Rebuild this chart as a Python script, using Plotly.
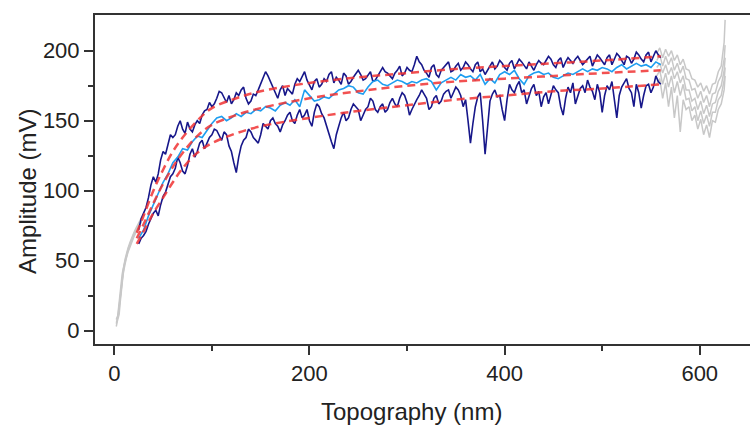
import plotly.graph_objects as go

# ---------------- data ----------------
x_main = list(range(25, 561, 5))
x_mid = [v + 2.5 for v in range(25, 560, 5)]

upper_vals = [72, 84, 95, 110, 112, 128, 133, 138, 146, 144,
              149, 142, 150, 154, 158, 160, 166, 170, 163, 162,
              170, 172, 166, 164, 168, 176, 185, 178, 170, 172,
              168, 171, 176, 178, 185, 175, 178, 174, 180, 183,
              177, 179, 184, 176, 181, 186, 179, 183, 178, 182,
              188, 184, 180, 186, 182, 188, 185, 196, 190, 184,
              188, 183, 186, 190, 185, 189, 186, 192, 187, 190,
              185, 183, 190, 187, 193, 188, 191, 187, 194, 189,
              192, 186, 193, 190, 196, 190, 193, 188, 195, 191,
              196, 190, 194, 189, 197, 192, 195, 190, 198, 193,
              196, 191, 199, 194, 197, 192, 200, 195]
upper_mid = [80, 88, 104, 106, 122, 126, 140, 140, 150, 141,
             144, 147, 148, 157, 163, 162, 171, 166, 168, 165,
             168, 174, 162, 169, 172, 181, 182, 175, 166, 175,
             173, 169, 180, 181, 179, 172, 180, 176, 178, 185,
             181, 176, 182, 178, 184, 183, 180, 185, 179, 185,
             185, 182, 184, 189, 184, 186, 190, 192, 186, 181,
             190, 181, 188, 192, 186, 191, 188, 190, 185, 192,
             187, 186, 192, 189, 191, 186, 193, 190, 192, 187,
             189, 190, 191, 193, 194, 188, 195, 192, 193, 194,
             193, 192, 196, 193, 195, 190, 197, 194, 196, 190,
             195, 194, 197, 192, 199, 196, 197]

mean_vals = [66, 72, 82, 90, 98, 106, 112, 120, 124, 130,
             129, 135, 139, 138, 143, 148, 152, 153, 150, 152,
             155, 153, 156, 155, 158, 157, 160, 159, 157, 161,
             163, 161, 165, 160, 172, 168, 164, 165, 167, 166,
             169, 172, 173, 175, 174, 170, 169, 174, 178, 179,
             176, 175, 177, 179, 178, 176, 178, 177, 179, 180,
             178, 172, 177, 179, 181, 179, 183, 181, 182, 179,
             183, 176, 180, 177, 183, 185, 183, 186, 180, 176,
             182, 184, 185, 183, 184, 181, 180, 182, 184, 183,
             185, 187, 185, 187, 186, 188, 187, 185, 188, 190,
             187, 189, 191, 189, 190, 188, 192, 190]

lower_vals = [62, 68, 76, 84, 82, 96, 104, 112, 124, 114,
              118, 130, 128, 136, 134, 140, 143, 136, 140, 128,
              113, 132, 138, 142, 136, 140, 146, 150, 148, 142,
              150, 156, 148, 158, 154, 150, 156, 160, 152, 140,
              130, 146, 156, 152, 162, 158, 154, 160, 164, 156,
              162, 158, 166, 160, 170, 163, 158, 165, 172, 166,
              160, 168, 164, 171, 166, 174, 168, 165, 134, 160,
              170, 126, 164, 172, 168, 150, 176, 170, 178, 172,
              168, 176, 171, 167, 162, 175, 170, 154, 174, 177,
              168, 175, 179, 171, 176, 156, 175, 178, 152, 174,
              180, 170, 176, 159, 175, 170, 182, 176]
lower_mid = [66, 71, 80, 86, 90, 99, 110, 116, 120, 112,
             126, 124, 134, 130, 138, 144, 139, 142, 132, 120,
             124, 136, 144, 138, 134, 148, 144, 152, 146, 147,
             154, 150, 154, 152, 158, 146, 162, 155, 146, 135,
             140, 152, 150, 158, 160, 150, 158, 166, 158, 160,
             156, 163, 162, 166, 168, 154, 162, 168, 169, 158,
             166, 162, 169, 172, 170, 172, 160, 150, 148, 167,
             150, 145, 169, 167, 158, 165, 172, 175, 170, 162,
             173, 168, 160, 170, 168, 172, 160, 166, 170, 162,
             173, 170, 174, 165, 170, 168, 172, 166, 168, 177,
             173, 160, 170, 168, 176, 174, 178]

fit_x = [23, 30, 40, 50, 60, 70, 85, 100, 125, 150, 200, 250, 300, 350, 400, 450, 500, 560]
fit_upper = [70, 82, 100, 115, 128, 138, 150, 159, 166, 171, 177, 181, 184, 187, 189, 191, 193, 196]
fit_mean = [66, 76, 91, 105, 117, 127, 139, 147, 154, 159, 166, 171, 175, 178, 180, 182, 184, 186]
fit_lower = [62, 71, 84, 95, 106, 116, 127, 134, 141, 146, 152, 157, 161, 165, 168, 171, 173, 176]

gray_left_x = [2, 3, 4, 5, 6, 7, 8, 9, 10, 11, 12, 14, 16, 18, 20, 22, 25, 28]
gray_left = [
    [5, 8, 14, 22, 30, 36, 40, 44, 47, 50, 53, 58, 62, 66, 69, 72, 76, 80],
    [3, 6, 10, 16, 24, 32, 38, 42, 46, 49, 52, 57, 61, 65, 68, 71, 75, 79],
    [8, 10, 9, 12, 20, 28, 35, 40, 44, 48, 51, 56, 60, 64, 67, 70, 74, 78],
    [6, 7, 12, 18, 26, 33, 39, 43, 47, 51, 54, 59, 63, 67, 70, 73, 77, 81],
]

gray_right_x = [556, 559, 562, 565, 568, 571, 574, 577, 580, 583, 586, 589, 592,
                595, 598, 601, 604, 607, 610, 613, 616, 619, 622, 625, 626]
gray_right = [
    [198, 202, 195, 201, 196, 200, 193, 197, 190, 194, 187, 186, 180, 179, 174, 177, 171, 175, 169, 176, 177, 185, 189, 206, 222],
    [193, 197, 189, 196, 190, 195, 186, 191, 184, 189, 180, 179, 172, 173, 166, 171, 163, 168, 160, 169, 170, 178, 182, 194, 204],
    [188, 191, 184, 190, 183, 188, 180, 185, 177, 182, 172, 172, 164, 166, 158, 164, 155, 161, 153, 162, 163, 171, 175, 186, 195],
    [182, 186, 176, 184, 174, 182, 170, 178, 168, 176, 165, 166, 157, 160, 150, 157, 148, 154, 146, 156, 156, 165, 168, 179, 188],
    [176, 180, 166, 177, 160, 174, 152, 168, 142, 165, 158, 160, 150, 154, 144, 151, 140, 147, 138, 150, 149, 158, 162, 172, 182],
]

x_ticks = [0, 200, 400, 600]
y_ticks = [0, 50, 100, 150, 200]


def merge(xa, ya, xb, yb):
    pts = sorted(list(zip(xa, ya)) + list(zip(xb, yb)))
    return [p[0] for p in pts], [p[1] for p in pts]


# ---------------- figure ----------------
fig = go.Figure()

GRAY = "#c8c8c8"
for ys in gray_left:
    fig.add_trace(go.Scatter(x=gray_left_x, y=ys, mode="lines",
                             line=dict(color=GRAY, width=1.5)))
for ys in gray_right:
    fig.add_trace(go.Scatter(x=gray_right_x, y=ys, mode="lines",
                             line=dict(color=GRAY, width=1.5)))

NAVY = "#17178a"
ux, uy = merge(x_main, upper_vals, x_mid, upper_mid)
lx, ly = merge(x_main, lower_vals, x_mid, lower_mid)
fig.add_trace(go.Scatter(x=ux, y=uy, mode="lines",
                         line=dict(color=NAVY, width=1.6)))
fig.add_trace(go.Scatter(x=lx, y=ly, mode="lines",
                         line=dict(color=NAVY, width=1.6)))
fig.add_trace(go.Scatter(x=x_main, y=mean_vals, mode="lines",
                         line=dict(color="#1e9ef0", width=1.6)))

RED = "rgba(240,50,50,0.85)"
for ys in (fit_upper, fit_mean, fit_lower):
    fig.add_trace(go.Scatter(x=fit_x, y=ys, mode="lines",
                             line=dict(color=RED, width=2.5, dash="8px,5px",
                                       shape="spline", smoothing=1.0)))

axis_font = dict(family="Liberation Sans, Arial, sans-serif", size=22, color="#222")

fig.update_layout(
    width=750, height=426,
    margin=dict(l=95, r=0, t=15, b=82),
    paper_bgcolor="white", plot_bgcolor="white",
    showlegend=False,
    font=axis_font,
)
fig.update_xaxes(
    range=[-19.8, 651.5], autorange=False,
    tickvals=x_ticks, ticktext=[str(v) for v in x_ticks],
    ticks="outside", ticklen=9, tickwidth=2, tickcolor="#333",
    showline=True, linewidth=2, linecolor="#333", mirror=True,
    showgrid=False, zeroline=False, tickfont=axis_font,
    minor=dict(tickvals=[100, 300, 500], ticks="outside", ticklen=5,
               tickwidth=2, tickcolor="#333", showgrid=False),
)
fig.update_yaxes(
    range=[-9.5, 225.5], autorange=False,
    tickvals=y_ticks, ticktext=[str(v) for v in y_ticks],
    ticks="outside", ticklen=9, tickwidth=2, tickcolor="#333",
    showline=True, linewidth=2, linecolor="#333", mirror=False,
    showgrid=False, zeroline=False, tickfont=axis_font,
    minor=dict(tickvals=[25, 75, 125, 175], ticks="outside", ticklen=5,
               tickwidth=2, tickcolor="#333", showgrid=False),
)

title_font = dict(family="Liberation Sans, Arial, sans-serif", size=24, color="#222")
fig.add_annotation(text="Topography (nm)", xref="paper", yref="paper",
                   x=0.483, y=-0.204, xanchor="center", yanchor="middle",
                   showarrow=False, font=title_font)
fig.add_annotation(text="Amplitude (mV)", xref="paper", yref="paper",
                   x=-0.104, y=0.465, xanchor="center", yanchor="middle",
                   textangle=-90, showarrow=False, font=title_font)

fig.write_html("out.html")
